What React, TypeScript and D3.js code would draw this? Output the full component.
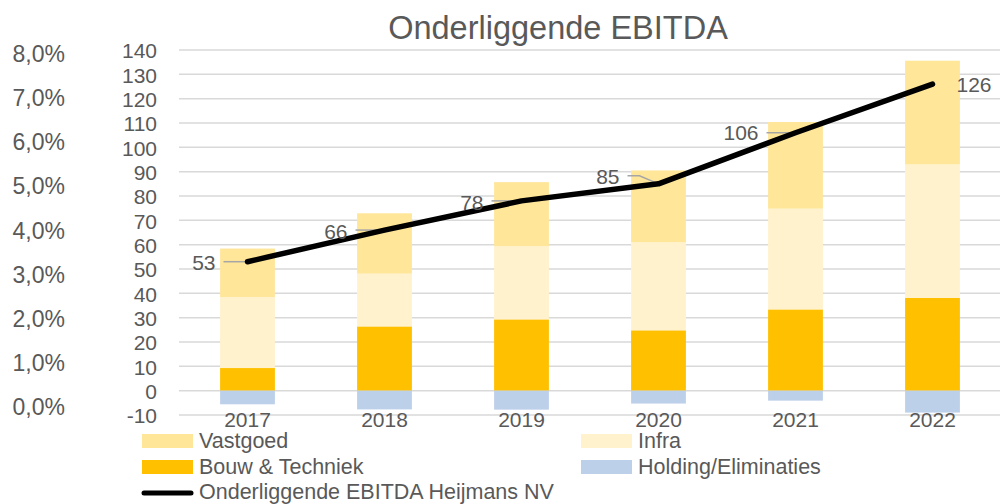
import React from "react";
import * as d3 from "d3";

const years = ["2017", "2018", "2019", "2020", "2021", "2022"];
const vastgoed = [19.9, 24.8, 26.3, 29.5, 35.6, 42.6];
const infra = [29.2, 21.7, 30.1, 36.2, 41.4, 54.9];
const bouw = [9.3, 26.4, 29.3, 24.8, 33.4, 38.1];
const holding = [-5.6, -7.7, -7.8, -5.3, -4.1, -9.0];
const ebitda = [53, 66, 78, 85, 106, 126];
const leftTicks = [-10, 0, 10, 20, 30, 40, 50, 60, 70, 80, 90, 100, 110, 120, 130, 140];
const pctTicks = [0, 0.01, 0.02, 0.03, 0.04, 0.05, 0.06, 0.07, 0.08];

const W = 1000;
const H = 504;
const TXT = "#595959";
const FONT = "'Liberation Sans', Arial, sans-serif";
const colors: Record<string, string> = {
  bouw: "#FFC000",
  infra: "#FFF2CC",
  vastgoed: "#FFE699",
  holding: "#BDD0EA",
};

export default function App() {
  const x = d3.scaleBand<string>().domain(years).range([179, 1001]).padding(0);
  const y = d3.scaleLinear().domain([-10, 140]).range([415, 50]);
  const yPct = d3.scaleLinear().domain([0, 0.08]).range([407, 54]);
  const barW = x.bandwidth() * 0.4;
  const cx = (yr: string) => (x(yr) as number) + x.bandwidth() / 2;

  const rows = years.map((yr, i) => ({
    year: yr,
    bouw: bouw[i],
    infra: infra[i],
    vastgoed: vastgoed[i],
    holding: holding[i],
  }));
  const keys = ["bouw", "infra", "vastgoed", "holding"];
  const stack = d3.stack<any>().keys(keys).offset(d3.stackOffsetDiverging);
  const series = stack(rows);

  const line = d3
    .line<number>()
    .x((_, i) => cx(years[i]))
    .y((v) => y(v));

  const pctFmt = (v: number) => (v * 100).toFixed(1).replace(".", ",") + "%";

  // label placement (left of the point, last one to the right)
  const labelGap = [32, 37, 38, 39, 37, -24];
  const labelDy = [1, 2, 2, -7, 0, 1];

  const legendItems = [
    { label: "Vastgoed", color: colors.vastgoed, x: 142, y: 441 },
    { label: "Infra", color: colors.infra, x: 581, y: 441 },
    { label: "Bouw & Techniek", color: colors.bouw, x: 142, y: 467 },
    { label: "Holding/Eliminaties", color: colors.holding, x: 581, y: 467 },
  ];

  return (
    <svg width={W} height={H} style={{ position: "absolute", left: 0, top: 0, background: "#fff" }} fontFamily={FONT}>
      <rect x={0} y={0} width={W} height={H} fill="#fff" />
      <text x={558} y={39} textAnchor="middle" fontSize={32.5} fill={TXT}>
        Onderliggende EBITDA
      </text>

      {leftTicks.map((t) => (
        <g key={t}>
          <line x1={179} x2={1001} y1={y(t)} y2={y(t)} stroke="#D9D9D9" strokeWidth={1.5} />
          <text x={157} y={y(t) + 1} dy="0.35em" textAnchor="end" fontSize={21} fill={TXT}>
            {t}
          </text>
        </g>
      ))}

      {pctTicks.map((t) => (
        <text key={t} x={65} y={yPct(t)} dy="0.35em" textAnchor="end" fontSize={23} fill={TXT}>
          {pctFmt(t)}
        </text>
      ))}

      {series.map((s) => (
        <g key={s.key} fill={colors[s.key]}>
          {s.map((d, i) => (
            <rect
              key={i}
              x={cx(years[i]) - barW / 2}
              width={barW}
              y={y(Math.max(d[0], d[1]))}
              height={Math.abs(y(d[0]) - y(d[1]))}
            />
          ))}
        </g>
      ))}

      {years.map((yr) => (
        <text key={yr} x={cx(yr)} y={427} textAnchor="middle" fontSize={21} fill={TXT}>
          {yr}
        </text>
      ))}

      {/* leader lines */}
      {ebitda.map((v, i) => {
        if (labelGap[i] < 0) return null;
        const px = cx(years[i]);
        const py = y(v);
        const lx = px - labelGap[i] + 8;
        const ly = py + labelDy[i] - 1;
        if (Math.abs(labelDy[i]) > 3) {
          return (
            <path
              key={i}
              d={`M${lx},${ly} L${lx + 12},${ly} L${px},${py}`}
              fill="none"
              stroke="#A6A6A6"
              strokeWidth={1.5}
            />
          );
        }
        return <line key={i} x1={lx} x2={px} y1={py} y2={py} stroke="#A6A6A6" strokeWidth={1.5} />;
      })}

      <path d={line(ebitda) as string} fill="none" stroke="#000" strokeWidth={5.5} strokeLinecap="round" strokeLinejoin="round" />

      {ebitda.map((v, i) => {
        const px = cx(years[i]);
        const py = y(v);
        const right = labelGap[i] < 0;
        return (
          <text
            key={i}
            x={px - labelGap[i]}
            y={py + labelDy[i]}
            dy="0.35em"
            textAnchor={right ? "start" : "end"}
            fontSize={21}
            fill={TXT}
          >
            {v}
          </text>
        );
      })}

      {legendItems.map((it) => (
        <g key={it.label}>
          <rect x={it.x} y={it.y - 7} width={51} height={14} fill={it.color} />
          <text x={it.x + 57} y={it.y + 7} fontSize={21.5} fill={TXT}>
            {it.label}
          </text>
        </g>
      ))}
      <line x1={144} x2={191} y1={493} y2={493} stroke="#000" strokeWidth={5} strokeLinecap="round" />
      <text x={199} y={499} fontSize={21.5} fill={TXT}>
        Onderliggende EBITDA Heijmans NV
      </text>
    </svg>
  );
}
